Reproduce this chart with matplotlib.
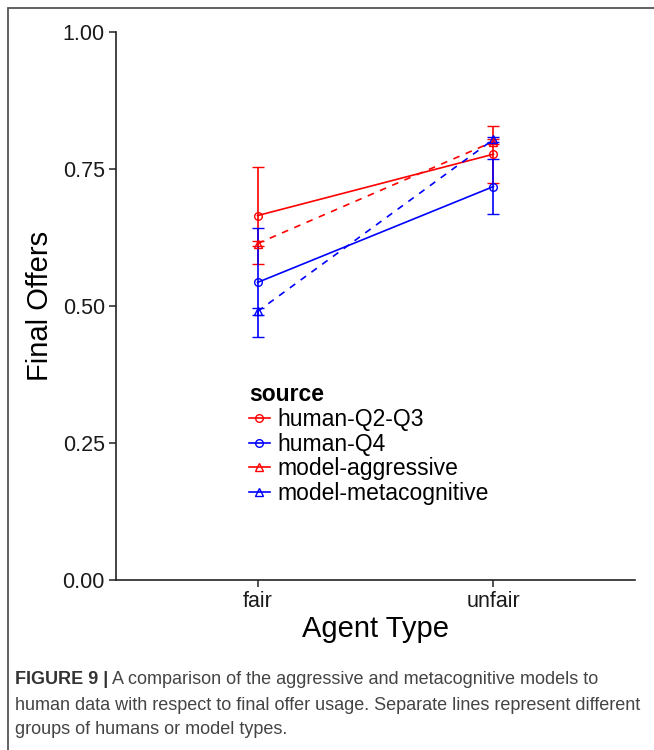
import matplotlib

matplotlib.use("Agg")
import matplotlib.pyplot as plt  # noqa: E402
from matplotlib.lines import Line2D  # noqa: E402
from matplotlib.patches import Rectangle  # noqa: E402

plt.rcParams["font.family"] = ["Liberation Sans", "DejaVu Sans"]

AGENTS = ["fair", "unfair"]
SOURCES = ["human-Q2-Q3", "human-Q4", "model-aggressive", "model-metacognitive"]
MEANS = {
    "human-Q2-Q3": [0.665, 0.777],
    "human-Q4": [0.543, 0.718],
    "model-aggressive": [0.614, 0.800],
    "model-metacognitive": [0.490, 0.804],
}
ERRS = {
    "human-Q2-Q3": [0.088, 0.052],
    "human-Q4": [0.099, 0.050],
    "model-aggressive": [0.005, 0.005],
    "model-metacognitive": [0.006, 0.004],
}
COLORS = {"human-Q2-Q3": "#ff0000", "human-Q4": "#0000ff",
          "model-aggressive": "#ff0000", "model-metacognitive": "#0000ff"}
MARKERS = {"human-Q2-Q3": "o", "human-Q4": "o",
           "model-aggressive": "^", "model-metacognitive": "^"}
STYLES = {"human-Q2-Q3": "-", "human-Q4": "-",
          "model-aggressive": (0, (4, 4)), "model-metacognitive": (0, (4, 4))}

W, H = 654, 750
fig = plt.figure(figsize=(W / 100, H / 100), dpi=100)
ax = fig.add_axes([116 / W, 1 - 580 / H, (635 - 116) / W, (580 - 32) / H])

x = [1, 2]
handles = []
for src in SOURCES:
    ax.errorbar(x, MEANS[src], yerr=ERRS[src], color=COLORS[src], ls=STYLES[src],
                lw=1.2, marker=MARKERS[src], ms=5.5, mfc="none", mew=1.0,
                capsize=4, capthick=1.2, elinewidth=1.2)
    # legend keys are drawn solid, as in the original
    handles.append(Line2D([], [], color=COLORS[src], lw=1.2, marker=MARKERS[src],
                          ms=5.5, mfc="none", mew=1.0))

ax.set_xlim(0.4, 2.6)
ax.set_ylim(0, 1.0)
ax.set_xticks(x)
ax.set_xticklabels(AGENTS)
ax.set_yticks([0, 0.25, 0.5, 0.75, 1.0])
ax.set_yticklabels(["0.00", "0.25", "0.50", "0.75", "1.00"])
for side in ("top", "right"):
    ax.spines[side].set_visible(False)
for side in ("left", "bottom"):
    ax.spines[side].set_linewidth(1.2)
    ax.spines[side].set_color("#222222")
ax.tick_params(labelsize=15.5, length=5, width=1.1, color="#222222", pad=3,
               labelcolor="#1a1a1a")
ax.set_xlabel("Agent Type", fontsize=21, labelpad=2)
ax.set_ylabel("Final Offers", fontsize=21, labelpad=6)

leg = fig.legend(handles, SOURCES, title="source", loc="upper left",
                 bbox_to_anchor=(249 / W, 1 - 383 / H), frameon=False,
                 fontsize=16.5, title_fontproperties={"weight": "bold", "size": 16.5},
                 alignment="left", handlelength=0.9, handletextpad=0.35,
                 labelspacing=0.08, borderaxespad=0, borderpad=0)

# outer frame (only top and left edges visible)
fig.patches.append(Rectangle((8 / W, -0.2), 1.5, 1.2 - 8 / H, transform=fig.transFigure,
                             fill=False, ec="#555555", lw=1.3))

# caption
fig.canvas.draw()
r = fig.canvas.get_renderer()
t1 = fig.text(15 / W, 1 - 680 / H, "FIGURE 9 |", fontsize=13, weight="bold",
              color="#333333", va="center")
bb = t1.get_window_extent(renderer=r)
fig.text((bb.x1 + 4) / W, 1 - 680 / H,
         "A comparison of the aggressive and metacognitive models to",
         fontsize=13, color="#444444", va="center")
fig.text(15 / W, 1 - 705 / H,
         "human data with respect to final offer usage. Separate lines represent different",
         fontsize=13, color="#444444", va="center")
fig.text(15 / W, 1 - 729 / H, "groups of humans or model types.",
         fontsize=13, color="#444444", va="center")

fig.savefig("out.png", dpi=100)
